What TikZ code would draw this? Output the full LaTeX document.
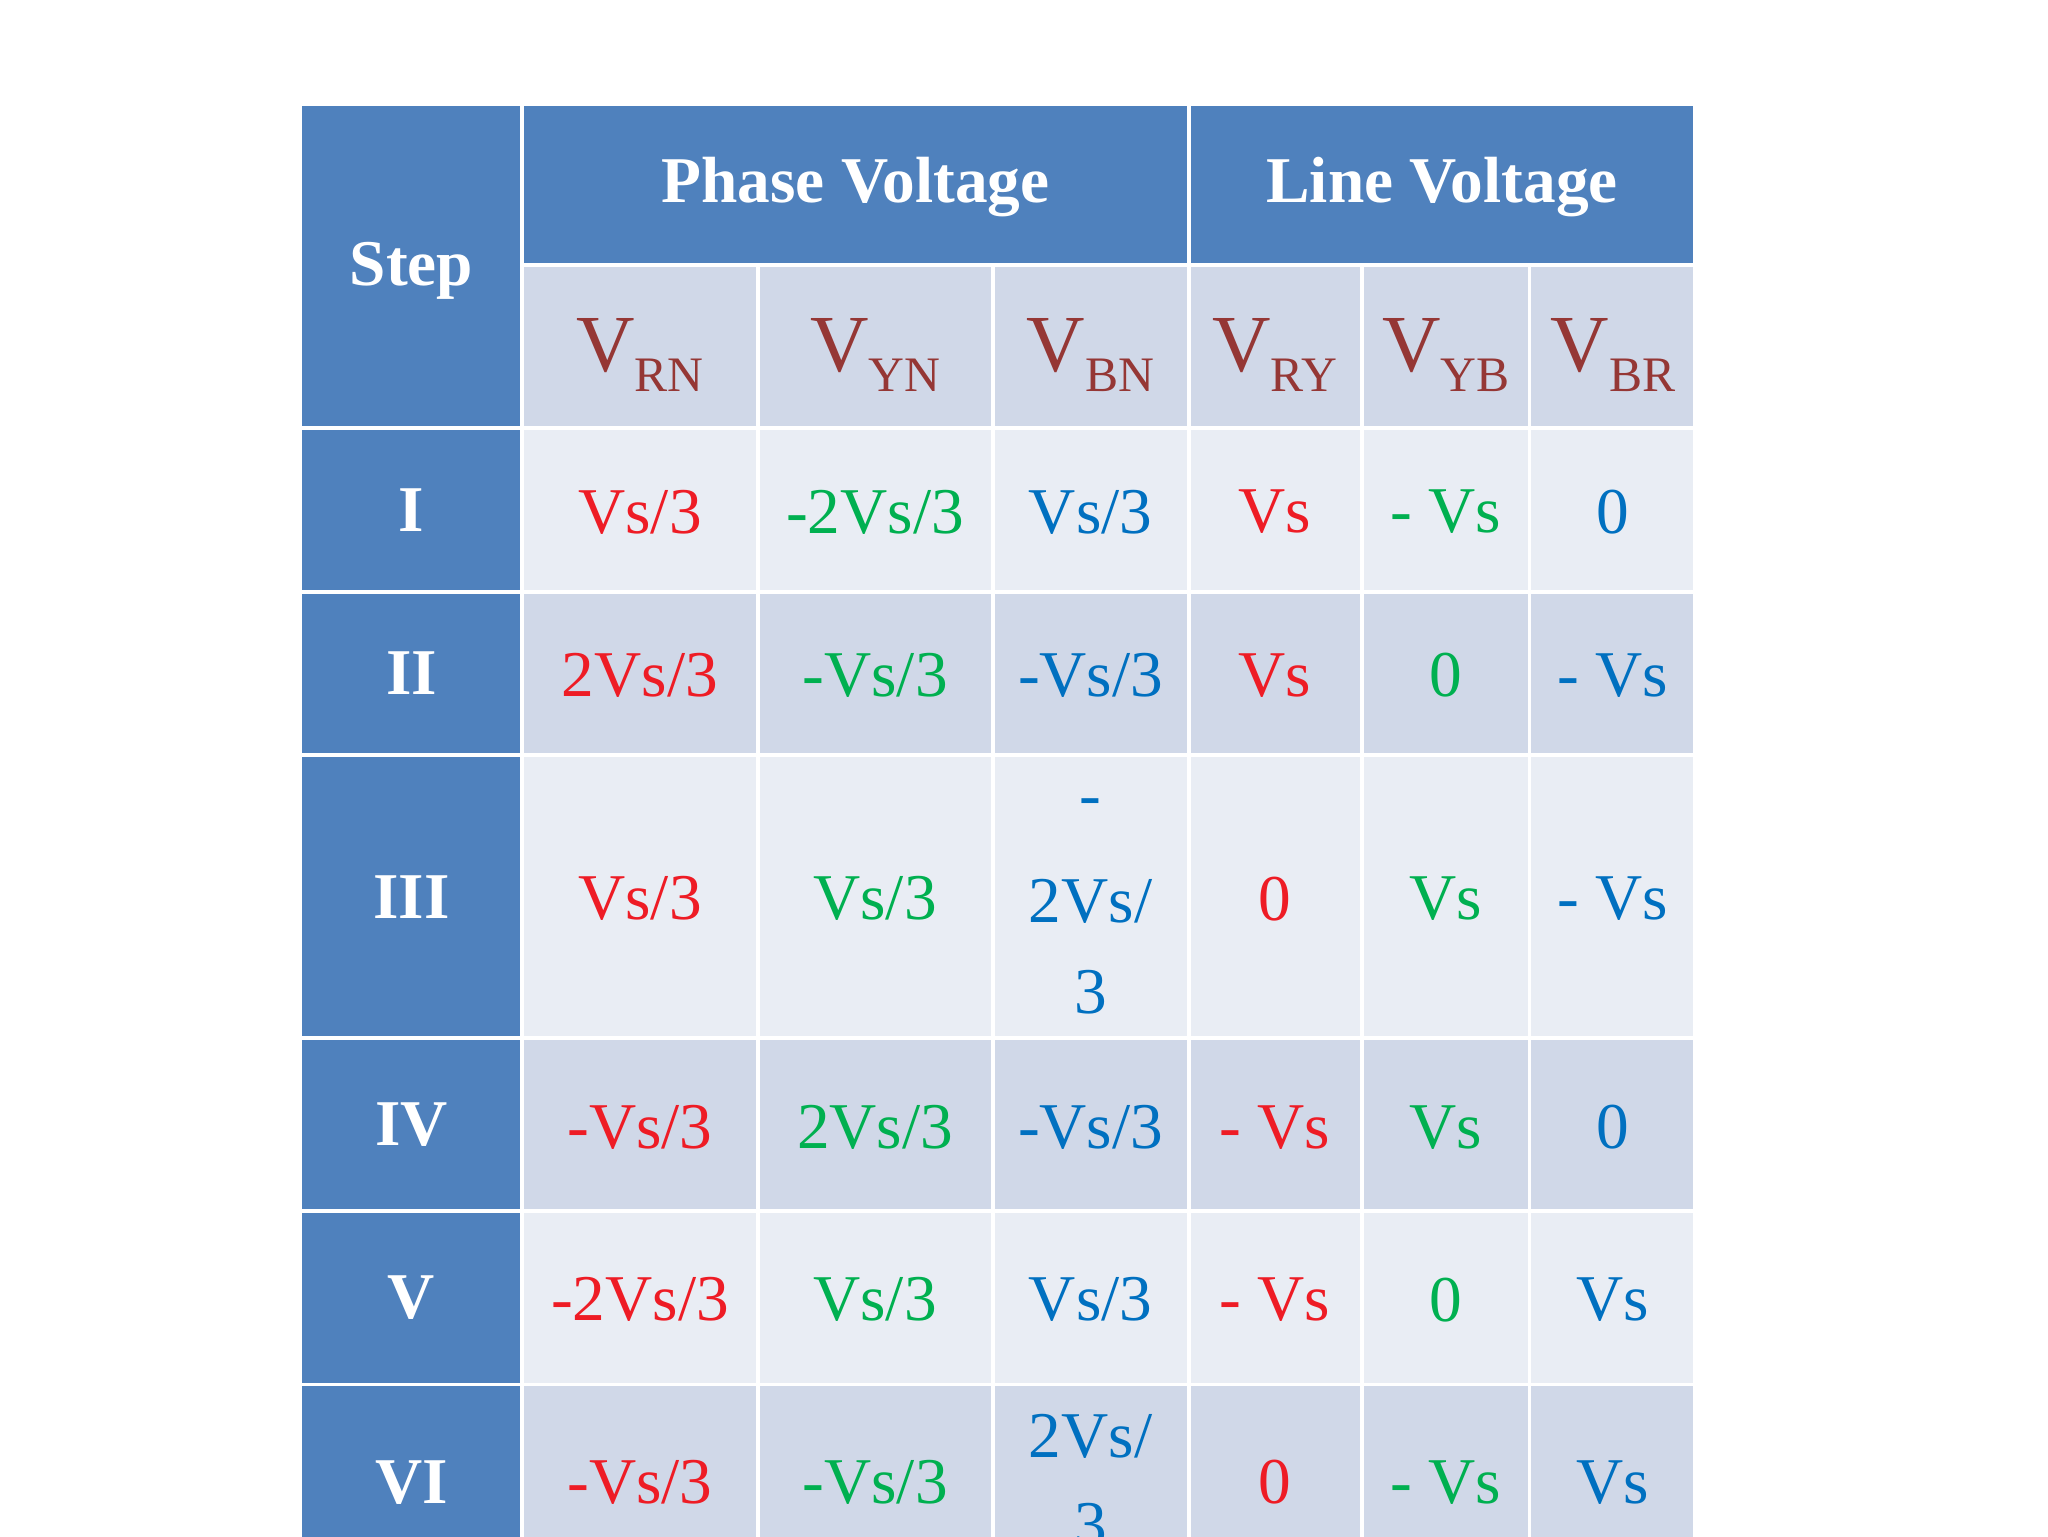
\documentclass[tikz,border=0pt]{standalone}
\usepackage{fontspec}
\setmainfont{Liberation Serif}
\definecolor{hb}{HTML}{4F81BD}
\definecolor{cd}{HTML}{D0D8E8}
\definecolor{cl}{HTML}{E9EDF4}
\definecolor{cr}{HTML}{EE1C25}
\definecolor{cg}{HTML}{00B050}
\definecolor{cb}{HTML}{0070C0}
\definecolor{vh}{HTML}{953735}
\begin{document}
\begin{tikzpicture}[x=1pt,y=-1pt,
  cell/.style={draw=white,line width=3pt},
  val/.style={font=\fontsize{50}{60}\selectfont},
  hd/.style={text=white,font=\bfseries\fontsize{50}{60}\selectfont},
  vhd/.style={text=vh,font=\fontsize{62}{70}\selectfont}]
\useasboundingbox (0,0) rectangle (1568,1176);
\clip (0,0) rectangle (1568,1176);
% header
\fill[cell,fill=hb] (230,80) rectangle (400,328);
\fill[cell,fill=hb] (400,80) rectangle (910,203);
\fill[cell,fill=hb] (910,80) rectangle (1298,203);
\node[hd] (step) at (315,207) {Step};
\node[hd] (pv) at (655,143) {Phase Voltage};
\node[hd] (lv) at (1104,143) {Line Voltage};
\foreach \a/\b [count=\i] in {400/580,580/760,760/910,910/1043,1043/1171,1171/1298}
  \fill[cell,fill=cd] (\a,203) rectangle (\b,328);
\node[vhd] (h1) at (490,272) {V\raisebox{-0.25em}{\fontsize{38}{40}\selectfont RN}};
\node[vhd] (h2) at (670,272) {V\raisebox{-0.25em}{\fontsize{38}{40}\selectfont YN}};
\node[vhd] (h3) at (835,272) {V\raisebox{-0.25em}{\fontsize{38}{40}\selectfont BN}};
\node[vhd] (h4) at (976,272) {V\raisebox{-0.25em}{\fontsize{38}{40}\selectfont RY}};
\node[vhd] (h5) at (1107,272) {V\raisebox{-0.25em}{\fontsize{38}{40}\selectfont YB}};
\node[vhd] (h6) at (1235,272) {V\raisebox{-0.25em}{\fontsize{38}{40}\selectfont BR}};
% rows
\foreach \t/\bt/\c/\lab [count=\r] in {328/453/cl/I,453/578/cd/II,578/795/cl/III,795/927/cd/IV,927/1060/cl/V,1060/1210/cd/VI}{
  \fill[cell,fill=hb] (230,\t) rectangle (400,\bt);
  \node[hd] (s\r) at (315,{(\t+\bt)/2}) {\lab};
  \foreach \a/\b in {400/580,580/760,760/910,910/1043,1043/1171,1171/1298}
    \fill[cell,fill=\c] (\a,\t) rectangle (\b,\bt);
}
\fill[cell,fill=hb] (230,1060) rectangle (400,1210);
\node[hd] (s6b) at (315,1135) {VI};
% values
\foreach \y/\ta/\tb/\tc/\td/\te/\tf [count=\r] in
 {392/Vs\slash 3/-2Vs\slash 3/Vs\slash 3/Vs/- Vs/0,
  517/2Vs\slash 3/-Vs\slash 3/-Vs\slash 3/Vs/0/- Vs,
  688/Vs\slash 3/Vs\slash 3//0/Vs/- Vs,
  863/-Vs\slash 3/2Vs\slash 3/-Vs\slash 3/- Vs/Vs/0,
  995/-2Vs\slash 3/Vs\slash 3/Vs\slash 3/- Vs/0/Vs,
  1135/-Vs\slash 3/-Vs\slash 3//0/- Vs/Vs}{
  \node[val,text=cr] (a\r) at (490,\y) {\ta};
  \node[val,text=cg] (b\r) at (670,\y) {\tb};
  \node[val,text=cb] (c\r) at (835,\y) {\tc};
  \node[val,text=cr] (d\r) at (976,\y) {\td};
  \node[val,text=cg] (e\r) at (1107,\y) {\te};
  \node[val,text=cb] (f\r) at (1235,\y) {\tf};
}
\node[val,text=cb] (c3a) at (835,618) {-};
\node[val,text=cb] (c3b) at (835,690) {2Vs/};
\node[val,text=cb] (c3c) at (835,760) {3};
\node[val,text=cb] (c6a) at (835,1100) {2Vs/};
\node[val,text=cb] (c6b) at (835,1168) {3};
\end{tikzpicture}
\end{document}
